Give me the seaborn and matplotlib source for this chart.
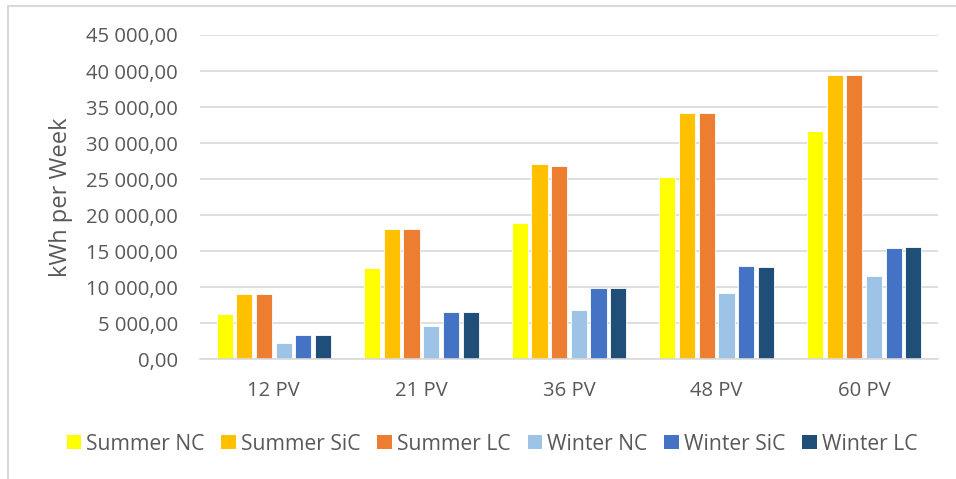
import matplotlib
matplotlib.use("Agg")
import matplotlib.pyplot as plt
import seaborn as sns
import pandas as pd
from matplotlib.lines import Line2D
from matplotlib.ticker import FuncFormatter

categories = ["12 PV", "21 PV", "36 PV", "48 PV", "60 PV"]
series_names = ["Summer NC", "Summer SiC", "Summer LC", "Winter NC", "Winter SiC", "Winter LC"]
summer_nc = [6300, 12700, 18950, 25300, 31600]
summer_sic = [9050, 18050, 27100, 34150, 39450]
summer_lc = [9050, 18050, 26850, 34150, 39450]
winter_nc = [2250, 4650, 6800, 9150, 11500]
winter_sic = [3280, 6550, 9800, 12950, 15450]
winter_lc = [3280, 6550, 9800, 12750, 15550]
colors = ["#FFFF00", "#FFC000", "#ED7D31", "#9DC3E6", "#4472C4", "#1F4E79"]

values = [summer_nc, summer_sic, summer_lc, winter_nc, winter_sic, winter_lc]
rows = []
for name, vals in zip(series_names, values):
    for cat, v in zip(categories, vals):
        rows.append({"cat": cat, "series": name, "value": v})
df = pd.DataFrame(rows)

sns.set_theme(style="white")
plt.rcParams["font.family"] = ["Open Sans", "DejaVu Sans"]

fig = plt.figure(figsize=(9.56, 4.79), dpi=100)
ax = fig.add_axes([200 / 956, 1 - 359 / 479, (938 - 200) / 956, (359 - 35) / 479])

sns.barplot(data=df, x="cat", y="value", hue="series", order=categories,
            hue_order=series_names, palette=colors, width=0.8, gap=0.18,
            edgecolor="white", linewidth=0.6, saturation=1, ax=ax)

ax.set_ylim(0, 45000)
ax.set_yticks(range(0, 45001, 5000))

def fmt(v, pos):
    s = f"{v:,.2f}".replace(",", " ").replace(".", ",")
    return s
ax.yaxis.set_major_formatter(FuncFormatter(fmt))

ax.grid(axis="y", color="#D9D9D9", linewidth=1.2)
ax.set_axisbelow(True)
for s in ["left", "right", "top"]:
    ax.spines[s].set_visible(False)
ax.spines["bottom"].set_color("#D9D9D9")
ax.spines["bottom"].set_linewidth(1.2)
ax.tick_params(axis="y", length=0, pad=16, labelsize=14.6, labelcolor="#595959")
ax.tick_params(axis="x", length=0, pad=16, labelsize=14.6, labelcolor="#595959")
ax.set_xlabel("")
ax.set_ylabel("kWh per Week", fontsize=17, color="#595959", labelpad=9)

leg_old = ax.get_legend()
if leg_old is not None:
    leg_old.remove()
handles = [plt.Rectangle((0, 0), 1, 1, facecolor=c, edgecolor="none") for c in colors]
fig.legend(handles, series_names, loc="center", bbox_to_anchor=(492 / 956, 1 - 444 / 479),
           ncol=6, frameon=False, fontsize=15.2, labelcolor="#595959",
           handlelength=0.68, handleheight=0.68, handletextpad=0.25, columnspacing=0.8,
           borderpad=0, borderaxespad=0)

# chart-area frame (left and top edges visible)
fig.add_artist(Line2D([7.5 / 956, 7.5 / 956], [0, 1 - 6 / 479], transform=fig.transFigure,
                      color="#D9D9D9", linewidth=1.5))
fig.add_artist(Line2D([7.5 / 956, 1], [1 - 6 / 479, 1 - 6 / 479], transform=fig.transFigure,
                      color="#D9D9D9", linewidth=1.5))

fig.savefig("out.png", dpi=100)
